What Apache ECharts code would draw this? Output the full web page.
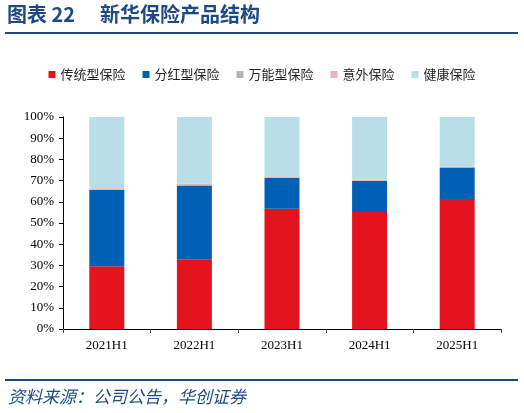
<!DOCTYPE html>
<html>
<head>
<meta charset="utf-8">
<script src="https://cdn.jsdelivr.net/npm/echarts@6/dist/echarts.min.js"></script>
<style>
  html, body { margin: 0; padding: 0; background: #fff; }
  #chart { width: 524px; height: 413px; }
</style>
</head>
<body>
<div id="chart"></div>
<script>
var categories = ['2021H1', '2022H1', '2023H1', '2024H1', '2025H1'];
var seriesNames = ['传统型保险', '分红型保险', '万能型保险', '意外保险', '健康保险'];
var traditional = [29.6, 32.9, 56.7, 55.2, 61.3];
var participating = [36.1, 34.8, 14.6, 14.7, 14.9];
var universal = [0.1, 0.1, 0.1, 0.1, 0.1];
var accident = [0.6, 0.7, 0.6, 0.4, 0.3];
var health = [33.6, 31.5, 28.0, 29.6, 23.4];
var yTicks = ['0%', '10%', '20%', '30%', '40%', '50%', '60%', '70%', '80%', '90%', '100%'];

var colors = ['#e3141d', '#0060b5', '#b4b4b4', '#e8b6b9', '#b8dee8'];
var seriesData = [traditional, participating, universal, accident, health];

var chart = echarts.init(document.getElementById('chart'));

var titleStyle = {
  fontFamily: '"Noto Sans CJK SC"',
  fontSize: 20,
  fontWeight: 'bold',
  fill: '#1d4a85'
};

var option = {
  backgroundColor: '#fff',
  animation: false,
  graphic: [
    {
      type: 'text',
      left: 7,
      top: 4,
      style: Object.assign({ text: '图表 22' }, titleStyle)
    },
    {
      type: 'text',
      left: 100,
      top: 4,
      style: Object.assign({ text: '新华保险产品结构' }, titleStyle)
    },
    {
      type: 'rect',
      shape: { x: 5, y: 32, width: 513, height: 2 },
      style: { fill: '#1d4a85' }
    },
    {
      type: 'rect',
      shape: { x: 5, y: 379, width: 513, height: 2 },
      style: { fill: '#1d4a85' }
    },
    {
      type: 'text',
      left: 8,
      top: 388,
      style: {
        text: '资料来源：公司公告，华创证券',
        fontFamily: '"Noto Sans CJK SC"',
        fontSize: 17,
        fontStyle: 'italic',
        fill: '#1d4a85'
      }
    }
  ],
  legend: {
    top: 63,
    left: 'center',
    itemWidth: 7,
    itemHeight: 7,
    itemGap: 17,
    icon: 'rect',
    textStyle: {
      fontFamily: '"Noto Sans CJK SC"',
      fontSize: 13,
      color: '#222'
    },
    data: seriesNames
  },
  grid: {
    left: 63,
    right: 23,
    top: 117,
    bottom: 84
  },
  xAxis: {
    type: 'category',
    data: categories,
    axisLine: { lineStyle: { color: '#000', width: 1 } },
    axisTick: { show: true, length: 4, lineStyle: { color: '#555' } },
    axisLabel: {
      margin: 10,
      fontFamily: '"Liberation Serif"',
      fontSize: 13,
      color: '#000'
    }
  },
  yAxis: {
    type: 'value',
    min: 0,
    max: 100,
    interval: 10,
    axisLine: { show: true, lineStyle: { color: '#000', width: 1 } },
    axisTick: { show: true, length: 4, lineStyle: { color: '#000' } },
    splitLine: { show: false },
    axisLabel: {
      margin: 9,
      fontFamily: '"Liberation Serif"',
      fontSize: 13,
      color: '#000',
      formatter: function (v) { return yTicks[Math.round(v / 10)]; }
    }
  },
  series: seriesNames.map(function (name, i) {
    return {
      name: name,
      type: 'bar',
      stack: 'total',
      barWidth: 35,
      data: seriesData[i],
      itemStyle: { color: colors[i] }
    };
  })
};

chart.setOption(option);
</script>
</body>
</html>
